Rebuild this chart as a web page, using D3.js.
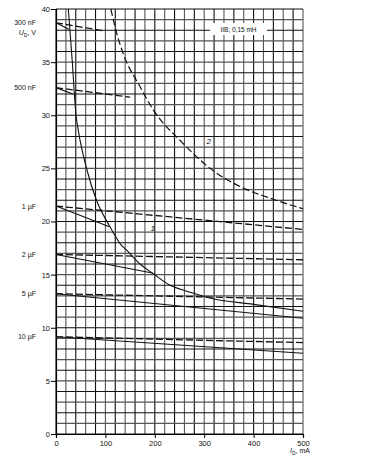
<!DOCTYPE html>
<html><head><meta charset="utf-8">
<script src="https://cdn.jsdelivr.net/npm/d3@7"></script>
<style>
html,body{margin:0;padding:0;background:#fff;}
svg{display:block;font-family:"Liberation Sans",Arial,sans-serif;}
</style></head>
<body><div id="chart"></div>
<script>
// ---- data ----
const xTicks = [0, 100, 200, 300, 400, 500];
const yTicks = [0, 5, 10, 15, 20, 25, 30, 35, 40];
const capLabels = ["300 nF", "500 nF", "1 µF", "2 µF", "5 µF", "10 µF"];
const capStartV = [38.7, 32.6, 21.45, 16.9, 13.2, 9.15];
// solid line end points [I mA, U V]
const solidEndI = [26, 34, 108, 195, 500, 500];
const solidEndV = [38.1, 32.0, 19.5, 15.15, 10.9, 7.6];
// dashed line end points
const dashEndI = [96, 150, 500, 500, 500, 500];
const dashEndV = [37.95, 31.7, 19.25, 16.4, 12.7, 8.6];
// curve 1 (solid)
const curve1I = [25, 33, 40.5, 45, 63, 82, 108, 123, 130, 143, 170, 195, 231, 260, 285, 311, 400, 500];
const curve1V = [40, 35, 30, 28.6, 24.8, 22.0, 19.6, 18.4, 17.9, 17.3, 16.0, 15.15, 14.0, 13.5, 13.15, 12.8, 12.2, 11.55];
// curve 2 (dashed)
const curve2I = [111, 123, 136, 170, 197, 254, 312, 372, 433, 500];
const curve2V = [40, 37.7, 35.8, 32.7, 30.5, 27.5, 25.0, 23.3, 22.2, 21.2];
const legendText = "IIB; 0,15 mH";

// ---- drawing ----
const W = 365, H = 459;
const svg = d3.select("#chart").append("svg").attr("width", W).attr("height", H);
const x = d3.scaleLinear().domain([0, 500]).range([56, 303]);
const y = d3.scaleLinear().domain([0, 40]).range([434, 9]);

const grid = svg.append("g");
d3.range(0, 501, 20).forEach((v, i) => {
  grid.append("line").attr("x1", x(v)).attr("x2", x(v)).attr("y1", y(0)).attr("y2", y(40))
    .attr("stroke", i % 2 ? "#555" : "#111").attr("stroke-width", 1.1);
});
d3.range(0, 41, 1).forEach((v, i) => {
  grid.append("line").attr("x1", x(0)).attr("x2", x(500)).attr("y1", y(v)).attr("y2", y(v))
    .attr("stroke", i % 2 ? "#555" : "#111").attr("stroke-width", 1.1);
});

// axes
const xAxis = d3.axisBottom(x).tickValues(xTicks).tickSize(4).tickPadding(3);
const yAxis = d3.axisLeft(y).tickValues(yTicks).tickSize(5).tickPadding(1);
const gx = svg.append("g").attr("transform", `translate(0,${y(0)})`).call(xAxis);
const gy = svg.append("g").attr("transform", `translate(${x(0)},0)`).call(yAxis);
[gx, gy].forEach(g => {
  g.select(".domain").attr("stroke", "#000").attr("stroke-width", 1.2);
  g.selectAll(".tick line").attr("stroke", "#000");
  g.selectAll(".tick text").attr("font-size", 7.5).attr("fill", "#111")
    .attr("font-family", "Liberation Sans, Arial, sans-serif");
});

// legend box
svg.append("rect").attr("x", 210).attr("y", 23).attr("width", 57).attr("height", 12).attr("fill", "#fff");
svg.append("text").attr("x", 238.5).attr("y", 31.5).attr("text-anchor", "middle")
  .attr("font-size", 6.5).attr("fill", "#111").text(legendText);

const line = d3.line().x(d => x(d[0])).y(d => y(d[1]));
const curveLine = d3.line().x(d => x(d[0])).y(d => y(d[1])).curve(d3.curveMonotoneX);

// capacitor lines
capStartV.forEach((v0, i) => {
  svg.append("path").attr("d", line([[0, v0], [dashEndI[i], dashEndV[i]]]))
    .attr("fill", "none").attr("stroke", "#111").attr("stroke-width", 1.3).attr("stroke-dasharray", "7,3");
  svg.append("path").attr("d", line([[0, v0], [solidEndI[i], solidEndV[i]]]))
    .attr("fill", "none").attr("stroke", "#111").attr("stroke-width", 1.1);
  svg.append("text").attr("x", 36).attr("y", y(v0) + 2.5).attr("text-anchor", "end")
    .attr("font-size", 7).attr("fill", "#111").text(capLabels[i]);
});

// curve 1
svg.append("path").attr("d", curveLine(curve1I.map((v, i) => [v, curve1V[i]])))
  .attr("fill", "none").attr("stroke", "#111").attr("stroke-width", 1.1);
// curve 2
svg.append("path").attr("d", curveLine(curve2I.map((v, i) => [v, curve2V[i]])))
  .attr("fill", "none").attr("stroke", "#111").attr("stroke-width", 1.2).attr("stroke-dasharray", "7,3");

// curve labels
svg.append("text").attr("x", x(309)).attr("y", y(27.3)).attr("text-anchor", "middle")
  .attr("font-size", 8).attr("font-style", "italic").attr("fill", "#111").text("2");
svg.append("text").attr("x", x(196)).attr("y", y(19.15)).attr("text-anchor", "middle")
  .attr("font-size", 8).attr("font-style", "italic").attr("fill", "#111").text("1");

// axis titles
const yt = svg.append("text").attr("x", 36).attr("y", 35).attr("text-anchor", "end")
  .attr("font-size", 7).attr("fill", "#111");
yt.append("tspan").attr("font-style", "italic").text("U");
yt.append("tspan").attr("font-size", 5).attr("dy", 2).text("D");
yt.append("tspan").attr("dy", -2).text(", V");

const xt = svg.append("text").attr("x", 310).attr("y", 453).attr("text-anchor", "end")
  .attr("font-size", 7).attr("fill", "#111");
xt.append("tspan").attr("font-style", "italic").text("I");
xt.append("tspan").attr("font-size", 5).attr("dy", 2).text("D");
xt.append("tspan").attr("dy", -2).text(", mA");
</script></body></html>
